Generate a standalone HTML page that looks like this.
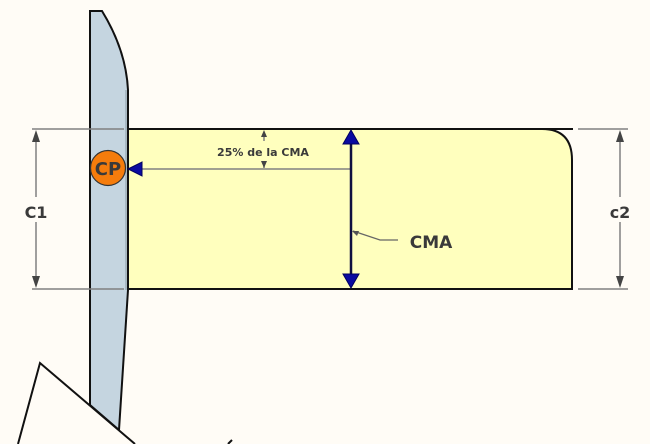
<!DOCTYPE html>
<html><head><meta charset="utf-8"><style>
html,body{margin:0;padding:0;background:#fffcf6;}
svg{display:block}
text{font-family:"DejaVu Sans","Liberation Sans",sans-serif;font-weight:bold;fill:#3a3a3a}
</style></head><body>
<svg width="650" height="444" viewBox="0 0 650 444" xmlns="http://www.w3.org/2000/svg">
<rect width="650" height="444" fill="#fffcf6"/>
<path d="M128,129 L542,129 Q572,129 572,160 L572,289 L128,289 Z" fill="#ffffbe" stroke="#111" stroke-width="2"/>
<line x1="542" y1="129" x2="573" y2="129" stroke="#111" stroke-width="2"/>
<path d="M90,405 L90,11 L102,11 Q126,50 128,90 L128,290 L119,430 Z" fill="#c5d5e0" stroke="#111" stroke-width="2"/>
<line x1="126" y1="90" x2="126" y2="290" stroke="#8a9aa5" stroke-width="1"/>
<path d="M18,444 L40,363 L135,444" fill="#fffcf6" stroke="#111" stroke-width="2"/>
<line x1="228" y1="444" x2="232" y2="440" stroke="#111" stroke-width="2"/>
<g stroke="#808080" stroke-width="1.5">
<line x1="32" y1="129" x2="124" y2="129"/>
<line x1="32" y1="289" x2="124" y2="289"/>
<line x1="578" y1="129" x2="628" y2="129"/>
<line x1="578" y1="289" x2="628" y2="289"/>
<line x1="36" y1="138" x2="36" y2="197"/>
<line x1="36" y1="222" x2="36" y2="280"/>
<line x1="620" y1="138" x2="620" y2="197"/>
<line x1="620" y1="222" x2="620" y2="280"/>
<line x1="140" y1="169" x2="350" y2="169"/>
<line x1="264" y1="136" x2="264" y2="141"/>
<line x1="264" y1="162" x2="264" y2="168"/>
</g>
<g fill="#444">
<polygon points="36,130 32,142 40,142"/><polygon points="36,288 32,276 40,276"/>
<polygon points="620,130 616,142 624,142"/><polygon points="620,288 616,276 624,276"/>
<polygon points="264,130 261,137 267,137"/><polygon points="264,168 261,161 267,161"/>
</g>
<line x1="351" y1="133" x2="351" y2="286" stroke="#101040" stroke-width="2.5"/>
<polygon points="351,130 343,144 359,144" fill="#0a0aa0" stroke="#000060"/>
<polygon points="351,288 343,274 359,274" fill="#0a0aa0" stroke="#000060"/>
<polygon points="128,169 142,162 142,176" fill="#0a0aa0" stroke="#000060"/>
<polyline points="353,231 380,240 398,240" fill="none" stroke="#666" stroke-width="1.2"/>
<polygon points="352,231 359,231 357,236" fill="#555"/>
<circle cx="108" cy="168" r="17.5" fill="#f57c0c" stroke="#333" stroke-width="1.2"/>
<text x="108" y="175" font-size="18" text-anchor="middle">CP</text>
<text x="263" y="156" font-size="11" text-anchor="middle">25% de la CMA</text>
<text x="431" y="248" font-size="17" text-anchor="middle">CMA</text>
<text x="36" y="218" font-size="16" text-anchor="middle">C1</text>
<text x="620" y="218" font-size="16" text-anchor="middle">c2</text>
</svg>
</body></html>
